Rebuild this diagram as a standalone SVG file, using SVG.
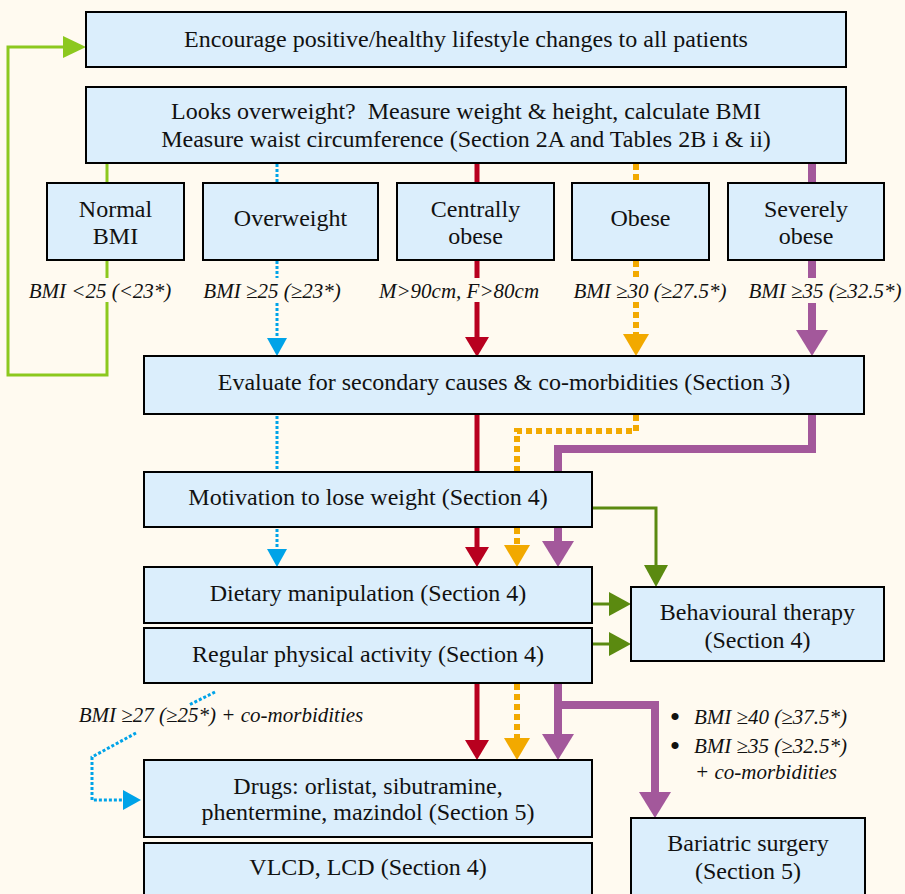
<svg xmlns="http://www.w3.org/2000/svg" width="905" height="894" viewBox="0 0 905 894">
<style>
.bx{fill:#dbeefc;stroke:#000;stroke-width:2}
.t{font-family:"Liberation Serif","Times New Roman",serif;font-size:24px;fill:#111;text-anchor:middle}
.l{font-family:"Liberation Serif","Times New Roman",serif;font-size:21px;font-style:italic;fill:#111;text-anchor:middle}
.ls{font-family:"Liberation Serif","Times New Roman",serif;font-size:21px;font-style:italic;fill:#111}
.bu{font-family:"Liberation Serif","Times New Roman",serif;font-size:30px;fill:#111;text-anchor:middle}
.g{fill:none;stroke:#8cc81e;stroke-width:3}
.b{fill:none;stroke:#00a3e8;stroke-width:3;stroke-dasharray:3 2}
.r{fill:none;stroke:#b8001f;stroke-width:5}
.o{fill:none;stroke:#f2a900;stroke-width:6;stroke-dasharray:6 4}
.p{fill:none;stroke:#a3589b;stroke-width:8}
.v{fill:none;stroke:#5b8a10;stroke-width:3}
</style>
<defs>
<marker id="mg" markerUnits="userSpaceOnUse" markerWidth="23" markerHeight="22" viewBox="0 0 23 22" refX="0" refY="11" orient="auto"><path d="M0,0 L23,11 L0,22 z" fill="#8cc81e"/></marker>
<marker id="mb" markerUnits="userSpaceOnUse" markerWidth="18" markerHeight="20" viewBox="0 0 18 20" refX="0" refY="10" orient="auto"><path d="M0,0 L18,10 L0,20 z" fill="#00a3e8"/></marker>
<marker id="mr" markerUnits="userSpaceOnUse" markerWidth="20" markerHeight="24" viewBox="0 0 20 24" refX="0" refY="12" orient="auto"><path d="M0,0 L20,12 L0,24 z" fill="#b8001f"/></marker>
<marker id="mo" markerUnits="userSpaceOnUse" markerWidth="22" markerHeight="26" viewBox="0 0 22 26" refX="0" refY="13" orient="auto"><path d="M0,0 L22,13 L0,26 z" fill="#f2a900"/></marker>
<marker id="mp" markerUnits="userSpaceOnUse" markerWidth="26" markerHeight="32" viewBox="0 0 26 32" refX="0" refY="16" orient="auto"><path d="M0,0 L26,16 L0,32 z" fill="#a3589b"/></marker>
<marker id="mv" markerUnits="userSpaceOnUse" markerWidth="22" markerHeight="24" viewBox="0 0 22 24" refX="0" refY="12" orient="auto"><path d="M0,0 L22,12 L0,24 z" fill="#5b8a10"/></marker>
</defs>
<rect x="0" y="0" width="905" height="894" fill="#fffaf0"/>

<g id="connectors">
<line class="g" x1="107" y1="163" x2="107" y2="183"/>
<line class="g" x1="107" y1="260" x2="107" y2="278"/>
<polyline class="g" points="107,302 107,375 8,375 8,47 63,47" marker-end="url(#mg)"/>
<line class="b" x1="277" y1="164" x2="277" y2="183"/>
<line class="b" x1="277" y1="261" x2="277" y2="278"/>
<line class="b" x1="277" y1="303" x2="277" y2="338" marker-end="url(#mb)"/>
<line class="b" x1="277" y1="416" x2="277" y2="471"/>
<line class="b" x1="277" y1="529" x2="277" y2="549" marker-end="url(#mb)"/>
<polyline class="b" points="215,692 189,705"/>
<polyline class="b" points="136,733 92,757 92,800 123,800" marker-end="url(#mb)"/>
<line class="r" x1="477" y1="164" x2="477" y2="183"/>
<line class="r" x1="477" y1="261" x2="477" y2="278"/>
<line class="r" x1="477" y1="302" x2="477" y2="337" marker-end="url(#mr)"/>
<line class="r" x1="477" y1="415" x2="477" y2="472"/>
<line class="r" x1="477" y1="528" x2="477" y2="547" marker-end="url(#mr)"/>
<line class="r" x1="477" y1="684" x2="477" y2="740" marker-end="url(#mr)"/>
<line class="o" x1="636" y1="164" x2="636" y2="183"/>
<line class="o" x1="636" y1="261" x2="636" y2="278"/>
<line class="o" x1="636" y1="302" x2="636" y2="334" marker-end="url(#mo)"/>
<polyline class="o" points="636,415 636,431 517,431 517,472"/>
<line class="o" x1="517" y1="528" x2="517" y2="545" marker-end="url(#mo)"/>
<line class="o" x1="517" y1="684" x2="517" y2="738" marker-end="url(#mo)"/>
<line class="p" x1="812" y1="164" x2="812" y2="183"/>
<line class="p" x1="812" y1="261" x2="812" y2="278"/>
<line class="p" x1="812" y1="303" x2="812" y2="330" marker-end="url(#mp)"/>
<polyline class="p" points="812,415 812,449 558,449 558,472"/>
<line class="p" x1="558" y1="528" x2="558" y2="541" marker-end="url(#mp)"/>
<line class="p" x1="558" y1="684" x2="558" y2="734" marker-end="url(#mp)"/>
<polyline class="p" points="558,705 655,705 655,792" marker-end="url(#mp)"/>
<polyline class="v" points="593,508 656,508 656,565" marker-end="url(#mv)"/>
<line class="v" x1="593" y1="604" x2="609" y2="604" marker-end="url(#mv)"/>
<line class="v" x1="593" y1="644" x2="609" y2="644" marker-end="url(#mv)"/>
</g>

<g id="n-encourage"><rect class="bx" x="86" y="12" width="760" height="55"/>
<text class="t" x="466" y="47">Encourage positive/healthy lifestyle changes to all patients</text></g>

<g id="n-measure"><rect class="bx" x="86" y="87" width="760" height="76"/>
<text class="t" x="466" y="119">Looks overweight?&#160; Measure weight &amp; height, calculate BMI</text>
<text class="t" x="466" y="147">Measure waist circumference (Section 2A and Tables 2B i &amp; ii)</text></g>

<g id="n-normal"><rect class="bx" x="47" y="183" width="137" height="77"/>
<text class="t" x="115.5" y="217">Normal</text><text class="t" x="115.5" y="244">BMI</text></g>
<g id="n-overweight"><rect class="bx" x="203" y="183" width="175" height="77"/>
<text class="t" x="290.5" y="226">Overweight</text></g>
<g id="n-central"><rect class="bx" x="397" y="183" width="157" height="77"/>
<text class="t" x="475.5" y="217">Centrally</text><text class="t" x="475.5" y="244">obese</text></g>
<g id="n-obese"><rect class="bx" x="572" y="183" width="137" height="77"/>
<text class="t" x="640.5" y="226">Obese</text></g>
<g id="n-severe"><rect class="bx" x="728" y="183" width="156" height="77"/>
<text class="t" x="806" y="217">Severely</text><text class="t" x="806" y="244">obese</text></g>

<g id="labels">
<text class="l" x="100" y="298">BMI &lt;25 (&lt;23*)</text>
<text class="l" x="272" y="298">BMI ≥25 (≥23*)</text>
<text class="l" x="459" y="298">M&gt;90cm, F&gt;80cm</text>
<text class="l" x="650" y="298">BMI ≥30 (≥27.5*)</text>
<text class="l" x="825" y="298">BMI ≥35 (≥32.5*)</text>
<text class="l" x="221" y="722">BMI ≥27 (≥25*) + co-morbidities</text>
<text class="bu" x="675" y="727">•</text>
<text class="ls" x="694" y="724">BMI ≥40 (≥37.5*)</text>
<text class="bu" x="675" y="756">•</text>
<text class="ls" x="694" y="753">BMI ≥35 (≥32.5*)</text>
<text class="ls" x="695" y="779">+ co-morbidities</text>
</g>

<g id="n-evaluate"><rect class="bx" x="144" y="356" width="720" height="58"/>
<text class="t" x="504" y="390">Evaluate for secondary causes &amp; co-morbidities (Section 3)</text></g>
<g id="n-motivation"><rect class="bx" x="144" y="472" width="448" height="55"/>
<text class="t" x="368" y="505">Motivation to lose weight (Section 4)</text></g>
<g id="n-dietary"><rect class="bx" x="144" y="567" width="448" height="56"/>
<text class="t" x="368" y="601">Dietary manipulation (Section 4)</text></g>
<g id="n-activity"><rect class="bx" x="144" y="628" width="448" height="55"/>
<text class="t" x="368" y="662">Regular physical activity (Section 4)</text></g>
<g id="n-behavioural"><rect class="bx" x="631" y="587" width="253" height="74"/>
<text class="t" x="757.5" y="620">Behavioural therapy</text><text class="t" x="757.5" y="648">(Section 4)</text></g>
<g id="n-drugs"><rect class="bx" x="144" y="760" width="448" height="77"/>
<text class="t" x="368" y="794">Drugs: orlistat, sibutramine,</text><text class="t" x="368" y="820">phentermine, mazindol (Section 5)</text></g>
<g id="n-vlcd"><rect class="bx" x="144" y="843" width="448" height="60"/>
<text class="t" x="368" y="875">VLCD, LCD (Section 4)</text></g>
<g id="n-bariatric"><rect class="bx" x="631" y="818" width="234" height="85"/>
<text class="t" x="748" y="851">Bariatric surgery</text><text class="t" x="748" y="879">(Section 5)</text></g>
</svg>
